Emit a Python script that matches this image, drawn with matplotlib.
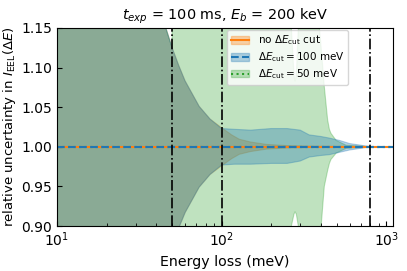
import numpy as np
import matplotlib
matplotlib.use("Agg")
import matplotlib.pyplot as plt
from matplotlib.patches import Patch
from matplotlib.lines import Line2D

# no cut
E_nocut = [10, 20, 30, 40, 45, 50, 55, 60, 67, 73, 85, 100, 115, 128, 150, 187, 250, 350, 600, 1100]
up_nocut = [2.0, 1.8, 1.45, 1.2, 1.155, 1.125, 1.102, 1.083, 1.065, 1.051, 1.035, 1.024,
            1.015, 1.0095, 1.006, 1.003, 1.0015, 1.0008, 1.0004, 1.0002]
lo_nocut = [0.0, 0.2, 0.55, 0.8, 0.845, 0.875, 0.898, 0.917, 0.935, 0.949, 0.965, 0.976,
            0.985, 0.9905, 0.994, 0.997, 0.9985, 0.9992, 0.9996, 0.9998]

# dE_cut = 100 meV
E_100 = [10, 20, 30, 40, 45, 50, 55, 60, 67, 73, 85, 100, 120, 150, 200, 250, 300, 340,
         400, 450, 520, 600, 700, 800, 1100]
up_100 = [2.0, 1.8, 1.45, 1.2, 1.155, 1.125, 1.102, 1.083, 1.065, 1.051, 1.035, 1.023,
          1.022, 1.021, 1.023, 1.023, 1.021, 1.015, 1.013, 1.011, 1.008, 1.004, 1.002, 1.0, 1.0]
lo_100 = [0.0, 0.2, 0.55, 0.8, 0.845, 0.875, 0.898, 0.917, 0.935, 0.949, 0.965, 0.977,
          0.978, 0.978, 0.979, 0.979, 0.982, 0.987, 0.989, 0.990, 0.993, 0.996, 0.998, 1.0, 1.0]

# dE_cut = 50 meV
E_50 = [10, 20, 30, 40, 45, 50, 50.5, 100, 200, 255, 265, 275, 279, 284, 292, 300, 350,
        392, 402, 420, 440, 451, 461, 496, 570, 800, 1100]
up_50 = [2.0, 1.8, 1.45, 1.2, 1.155, 1.125, 1.5, 1.4, 1.3, 1.25, 1.15, 1.09, 1.083, 1.09,
         1.15, 1.2, 1.2, 1.15, 1.125, 1.076, 1.034, 1.022, 1.017, 1.008, 1.002, 1.0, 1.0]
lo_50 = [0.0, 0.2, 0.55, 0.8, 0.845, 0.875, 0.5, 0.6, 0.8, 0.85, 0.90, 0.915, 0.918, 0.915,
         0.90, 0.87, 0.85, 0.88, 0.90, 0.95, 0.97, 0.979, 0.984, 0.992, 0.998, 1.0, 1.0]

vlines = [50, 100, 800]

fig = plt.figure(figsize=(4.07, 2.71), dpi=100)
ax = fig.add_axes([0.14, 0.166, 0.826, 0.731])

# fills: orange, green, blue
ax.fill_between(E_nocut, lo_nocut, up_nocut, color='C1', alpha=0.33, lw=0.8)
ax.fill_between(E_50, lo_50, up_50, color='C2', alpha=0.3, lw=0.8)
ax.fill_between(E_100, lo_100, up_100, color='C0', alpha=0.33, lw=0.8)

ax.plot([E_50[0], E_50[-1]], [1, 1], color='C2', ls=':', lw=1.5)
ax.plot([E_nocut[0], E_nocut[-1]], [1, 1], color='C1', ls='-', lw=1.5)
ax.plot([E_100[0], E_100[-1]], [1, 1], color='C0', ls='--', lw=1.5)

handles = [(Patch(facecolor='C1', alpha=0.33, edgecolor='C1'), Line2D([], [], color='C1', ls='-', lw=1.5)),
           (Patch(facecolor='C0', alpha=0.33, edgecolor='C0'), Line2D([], [], color='C0', ls='--', lw=1.5)),
           (Patch(facecolor='C2', alpha=0.3, edgecolor='C2'), Line2D([], [], color='C2', ls=':', lw=1.5))]
labels = [r'no $\Delta E_{\rm cut}$ cut',
          r'$\Delta E_{\rm cut} = 100$ meV',
          r'$\Delta E_{\rm cut} = 50$ meV']

for v in vlines:
    ax.axvline(v, color='k', ls='-.', lw=1.2)

ax.set_xscale('log')
ax.set_xlim(10, 1100)
ax.set_ylim(0.9, 1.15)
ax.set_yticks([0.90, 0.95, 1.00, 1.05, 1.10, 1.15])
ax.tick_params(which='both', direction='in', labelsize=10)
ax.set_xlabel('Energy loss (meV)', fontsize=10.2)
ax.set_ylabel(r'relative uncertainty in $I_{\rm EEL}(\Delta E)$', fontsize=9.5, labelpad=2)
ax.set_title(r'$t_{exp}$ = 100 ms, $E_b$ = 200 keV', fontsize=10.4)
ax.legend(handles, labels, loc='upper right', bbox_to_anchor=(0.872, 1.0), fontsize=7.5,
          handlelength=1.8, labelspacing=0.3, borderpad=0.35, borderaxespad=0.2)

fig.savefig('out.png', dpi=100)
